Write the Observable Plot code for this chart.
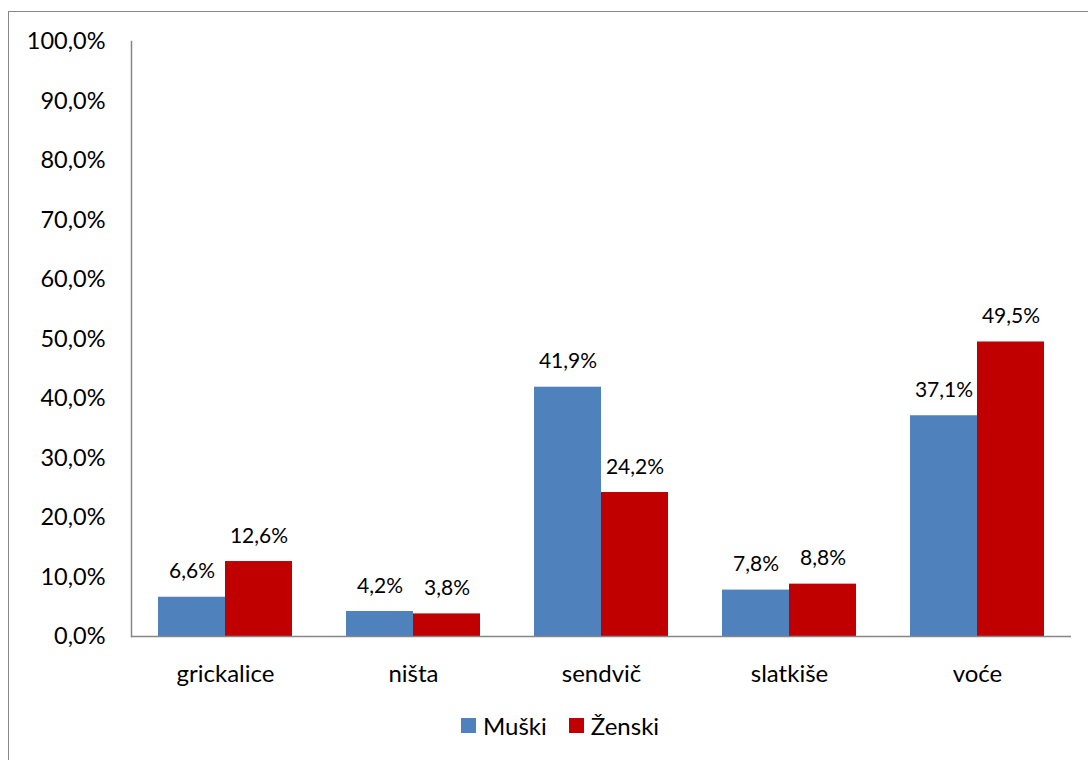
<!DOCTYPE html>
<html><head><meta charset="utf-8">
<script src="https://cdn.jsdelivr.net/npm/d3@7"></script>
<script src="https://cdn.jsdelivr.net/npm/@observablehq/plot@0.6"></script>
<style>
html,body{margin:0;padding:0;background:#fff;overflow:hidden;width:1088px;height:760px;}
#frame{position:absolute;left:8px;top:11px;width:1120px;height:800px;border:1.5px solid #888;box-sizing:border-box;}
#chart{position:absolute;left:0;top:0;}
#legend{position:absolute;left:461px;top:709px;}
#legend *{font-family:Lato,sans-serif;font-size:24px;color:#000;}
#legend [class$="-swatch"]{margin-right:22px !important;}
#legend [class$="-swatch"] > svg{margin-right:7px !important;}
</style></head><body>
<div id="frame"></div><div id="chart"></div><div id="legend"></div>
<script>
const categories = ["grickalice", "ništa", "sendvič", "slatkiše", "voće"];
const series = ["Muški", "Ženski"];
const muski = [6.6, 4.2, 41.9, 7.8, 37.1];
const zenski = [12.6, 3.8, 24.2, 8.8, 49.5];
const yTicks = [0, 10, 20, 30, 40, 50, 60, 70, 80, 90, 100];
const colors = ["#4F81BD", "#C00000"];

const fmt = v => v.toFixed(1).replace(".", ",") + "%";
const data = categories.flatMap((c, i) => [
  {cat: c, sex: series[0], value: muski[i]},
  {cat: c, sex: series[1], value: zenski[i]}
]);

const chart = Plot.plot({
  width: 1088, height: 700,
  marginTop: 41, marginLeft: 130, marginRight: 16, marginBottom: 64,
  style: {fontFamily: "Lato, sans-serif", background: "transparent", color: "#000"},
  fx: {domain: categories, padding: 0, label: null},
  x: {domain: series, paddingInner: 0, paddingOuter: 0.4, axis: null},
  y: {domain: [0, 100]},
  color: {domain: series, range: colors},
  marks: [
    Plot.barY(data, {fx: "cat", x: "sex", y: "value", fill: "sex"}),
    Plot.text(data, {fx: "cat", x: "sex", y: "value", text: d => fmt(d.value), lineAnchor: "bottom", dy: -19, fontSize: 21, fill: "#000"}),
    Plot.ruleY([0], {stroke: "#868686", strokeWidth: 1.5}),
    Plot.frame({anchor: "left", facetAnchor: "left", stroke: "#868686", strokeWidth: 1.5}),
    Plot.axisY({ticks: yTicks, tickSize: 0, tickPadding: 26, tickFormat: fmt, fontSize: 23.5, label: null}),
    Plot.axisFx({anchor: "bottom", tickSize: 0, tickPadding: 28, fontSize: 24, label: null})
  ]
});
document.getElementById("chart").appendChild(chart);

const legend = Plot.legend({color: {domain: series, range: colors}, legend: "swatches", swatchSize: 15});
document.getElementById("legend").appendChild(legend);
</script>
</body></html>
